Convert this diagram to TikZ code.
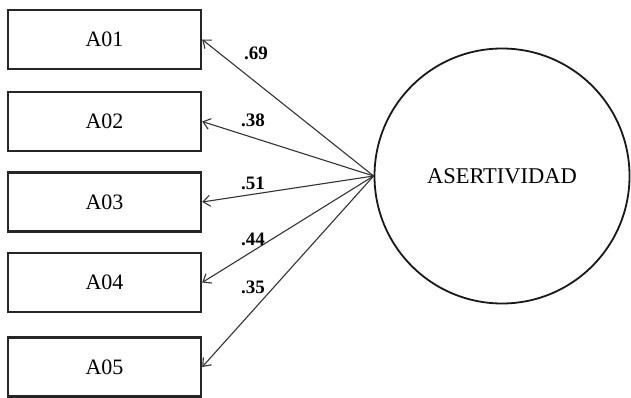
\documentclass[tikz,border=0pt]{standalone}
\usepackage{fontspec}
\setmainfont{Liberation Serif}
\usetikzlibrary{arrows.meta}
\begin{document}
\begin{tikzpicture}[x=1pt,y=-1pt,
  itembox/.style={draw=black!85,line width=2.4pt,minimum width=193pt,minimum height=59pt,inner sep=0pt,font=\fontsize{22}{25}\selectfont},
  latent/.style={draw=black!90,line width=1.8pt,circle,minimum size=255pt,inner sep=0pt,font=\fontsize{22.5}{25}\selectfont},
  load/.style={draw=black!80,line width=1.1pt,-{Straight Barb[length=7pt,width=11pt,line width=1.1pt]}},
  coef/.style={font=\bfseries\fontsize{19}{22}\selectfont,inner sep=0pt}]
\useasboundingbox[fill=white] (0,0) rectangle (631,398);
\node[itembox] (a1) at (104.5,39.5) {A01};
\node[itembox] (a2) at (104.5,121.5) {A02};
\node[itembox] (a3) at (104.5,202) {A03};
\node[itembox] (a4) at (104.5,282.5) {A04};
\node[itembox] (a5) at (104.5,367) {A05};
\node[latent] (f) at (502,176) {ASERTIVIDAD};
\draw[load] (f.west) -- (a1.east);
\draw[load] (f.west) -- (a2.east);
\draw[load] (f.west) -- (a3.east);
\draw[load] (f.west) -- (a4.east);
\draw[load] (f.west) -- (a5.east);
\node[coef] (c1) at (256,53) {.69};
\node[coef] (c2) at (253,120) {.38};
\node[coef] (c3) at (253,183) {.51};
\node[coef] (c4) at (253,239) {.44};
\node[coef] (c5) at (253,287) {.35};
\end{tikzpicture}
\end{document}
